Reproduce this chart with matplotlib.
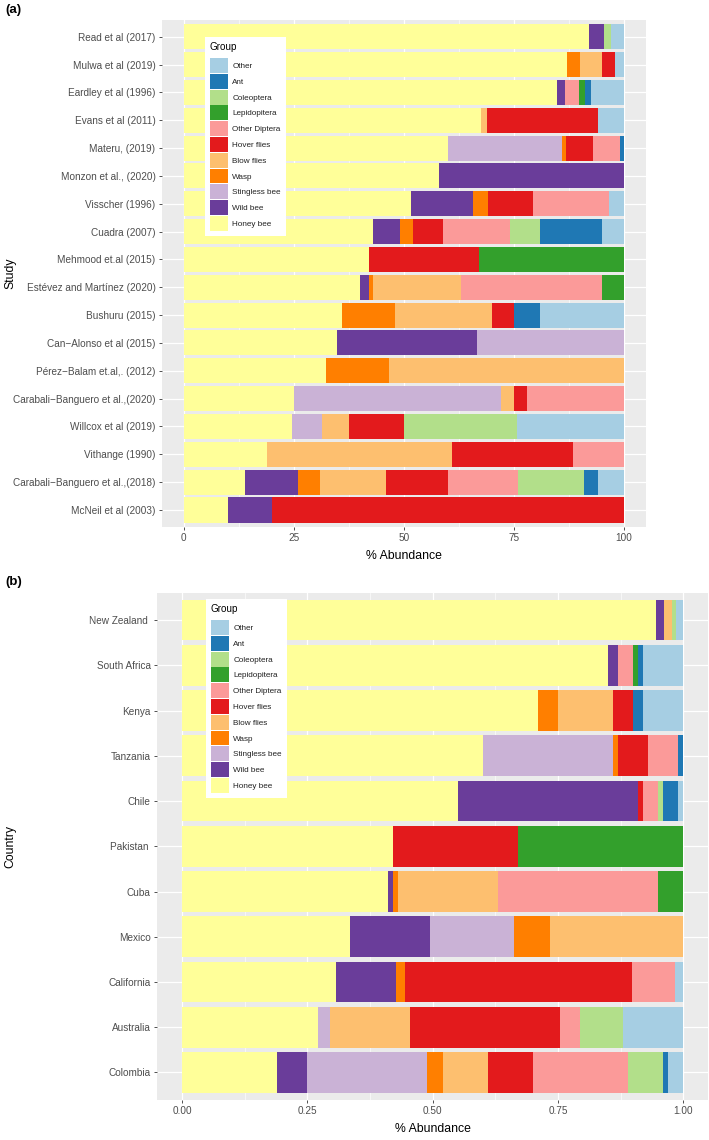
import matplotlib
matplotlib.use("Agg")
import matplotlib.pyplot as plt
from matplotlib.patches import Patch
import numpy as np

plt.rcParams['font.family'] = ['Liberation Sans', 'DejaVu Sans']

# ---------------- data ----------------
groups = ["Honey bee", "Wild bee", "Stingless bee", "Wasp", "Blow flies",
          "Hover flies", "Other Diptera", "Lepidopitera", "Coleoptera", "Ant", "Other"]
colors = ["#FFFF99", "#6A3D9A", "#CAB2D6", "#FF7F00", "#FDBF6F",
          "#E31A1C", "#FB9A99", "#33A02C", "#B2DF8A", "#1F78B4", "#A6CEE3"]

studies = ["Read et al (2017)", "Mulwa et al (2019)", "Eardley et al (1996)",
           "Evans et al (2011)", "Materu, (2019)", "Monzon et al., (2020)",
           "Visscher (1996)", "Cuadra (2007)", "Mehmood et.al (2015)",
           "Estévez and Martínez (2020)", "Bushuru (2015)", "Can\u2212Alonso et al (2015)",
           "Pérez\u2212Balam et.al,. (2012)", "Carabali\u2212Banguero et al.,(2020)",
           "Willcox et al (2019)", "Vithange (1990)",
           "Carabali\u2212Banguero et al.,(2018)", "McNeil et al (2003)"]

a_honey     = [92, 87, 84.7, 67.5, 60, 58, 51.7, 43, 42, 40, 36, 34.8, 32.4, 25, 24.6, 19, 14, 10]
a_wild      = [3.4, 0, 2.0, 0, 0, 42, 13.9, 6.1, 0, 2, 0, 31.9, 0, 0, 0, 0, 12, 10]
a_stingless = [0, 0, 0, 0, 26, 0, 0, 0, 0, 0, 0, 33.3, 0, 47, 6.9, 0, 0, 0]
a_wasp      = [0, 2.9, 0, 0, 0.9, 0, 3.6, 2.9, 0, 1, 12, 0, 14.3, 0, 0, 0, 5, 0]
a_blow      = [0, 5.1, 0, 1.4, 0, 0, 0, 0, 0, 20, 22, 0, 53.3, 3, 6.1, 42, 15, 0]
a_hover     = [0, 3, 0, 25.1, 6.1, 0, 10.2, 7, 25, 0, 5, 0, 0, 3, 12.4, 27.4, 14, 80]
a_odiptera  = [0, 0, 3.0, 0, 6, 0, 17.1, 15, 0, 32, 0, 0, 0, 22, 0, 11.6, 16, 0]
a_lepido    = [0, 0, 1.4, 0, 0, 0, 0, 0, 33, 5, 0, 0, 0, 0, 0, 0, 0, 0]
a_coleo     = [1.6, 0, 0, 0, 0, 0, 0, 7, 0, 0, 0, 0, 0, 0, 25.8, 0, 15, 0]
a_ant       = [0, 0, 1.3, 0, 1, 0, 0, 14, 0, 0, 6, 0, 0, 0, 0, 0, 3, 0]
a_other     = [3.0, 2, 7.6, 6.0, 0, 0, 3.5, 5, 0, 0, 19, 0, 0, 0, 24.2, 0, 6, 0]

countries = ["New Zealand ", "South Africa", "Kenya", "Tanzania", "Chile", "Pakistan ",
             "Cuba", "Mexico", "California", "Australia", "Colombia"]

b_honey     = [.945, .85, .71, .60, .55, .42, .41, .335, .308, .272, .189]
b_wild      = [.016, .02, 0, 0, .36, 0, .01, .16, .119, 0, .061]
b_stingless = [0, 0, 0, .26, 0, 0, 0, .167, 0, .023, .239]
b_wasp      = [0, 0, .04, .01, 0, 0, .01, .072, .018, 0, .031]
b_blow      = [.016, 0, .11, 0, 0, 0, .20, .266, 0, .159, .09]
b_hover     = [0, 0, .04, .06, .01, .25, 0, 0, .452, .30, .09]
b_odiptera  = [0, .03, 0, .06, .03, 0, .32, 0, .086, .04, .189]
b_lepido    = [0, .01, 0, 0, 0, .33, .05, 0, 0, 0, 0]
b_coleo     = [.008, 0, 0, 0, .01, 0, 0, 0, 0, .085, .071]
b_ant       = [0, .01, .02, .01, .03, 0, 0, 0, 0, 0, .01]
b_other     = [.015, .08, .08, 0, .01, 0, 0, 0, .017, .121, .03]

a_ticks = [0, 25, 50, 75, 100]
a_ticklabels = ["0", "25", "50", "75", "100"]
b_ticks = [0, 0.25, 0.5, 0.75, 1.0]
b_ticklabels = ["0.00", "0.25", "0.50", "0.75", "1.00"]

a_series = [a_honey, a_wild, a_stingless, a_wasp, a_blow, a_hover,
            a_odiptera, a_lepido, a_coleo, a_ant, a_other]
b_series = [b_honey, b_wild, b_stingless, b_wasp, b_blow, b_hover,
            b_odiptera, b_lepido, b_coleo, b_ant, b_other]

# ---------------- figure ----------------
W, H = 709, 1140
fig = plt.figure(figsize=(W / 100, H / 100), dpi=100)

PANEL_BG = "#EBEBEB"
TXT = "#4D4D4D"


def draw_panel(rect, cats, series, xmax, ticks, ticklabels):
    ax = fig.add_axes(rect)
    ax.set_facecolor(PANEL_BG)
    n = len(cats)
    y = np.arange(n)
    left = np.zeros(n)
    for vals, col in zip(series, colors):
        v = np.asarray(vals, dtype=float)
        ax.barh(y, v, left=left, height=0.9, color=col, linewidth=0, zorder=3)
        left += v
    ax.set_ylim(n - 1 + 0.6, -0.6)
    ax.set_xlim(-0.05 * xmax, 1.05 * xmax)
    ax.set_yticks(y)
    ax.set_yticklabels(cats, fontsize=7.2, color=TXT)
    ax.set_xticks(ticks)
    ax.set_xticklabels(ticklabels, fontsize=7.2, color=TXT)
    minor = [(ticks[i] + ticks[i + 1]) / 2 for i in range(len(ticks) - 1)]
    ax.set_xticks(minor, minor=True)
    ax.grid(True, which="major", color="white", linewidth=0.9, zorder=0)
    ax.grid(True, which="minor", axis="x", color="white", linewidth=0.45, zorder=0)
    ax.set_axisbelow(True)
    ax.tick_params(axis="both", which="major", length=2.5, width=0.6,
                   color="#333333", pad=2)
    ax.tick_params(axis="x", which="minor", length=0)
    for s in ax.spines.values():
        s.set_visible(False)
    ax.set_xlabel("% Abundance", fontsize=8.8, color="black", labelpad=5)
    return ax


ax_a = draw_panel([161.7 / W, 1 - 526.7 / H, (646 - 161.7) / W, (526.7 - 20) / H],
                  studies, a_series, 100, a_ticks, a_ticklabels)
ax_b = draw_panel([157 / W, 1 - 1099.6 / H, (708.3 - 157) / W, (1099.6 - 593) / H],
                  countries, b_series, 1.0, b_ticks, b_ticklabels)

fig.text(10 / W, 1 - 273 / H, "Study", rotation=90, fontsize=8.8,
         ha="center", va="center")
fig.text(10 / W, 1 - 846 / H, "Country", rotation=90, fontsize=8.8,
         ha="center", va="center")
fig.text(5 / W, 1 - 10 / H, "(a)", fontsize=9.5, fontweight="bold",
         ha="left", va="center")
fig.text(5 / W, 1 - 582 / H, "(b)", fontsize=9.5, fontweight="bold",
         ha="left", va="center")

handles = [Patch(facecolor=c, edgecolor="none") for c in colors[::-1]]
labels = groups[::-1]
for (lx, ly) in [(205, 37), (206, 599)]:
    leg = fig.legend(handles, labels, loc="upper left",
                     bbox_to_anchor=(lx / W, 1 - ly / H), borderaxespad=0,
                     title="Group", title_fontsize=7.1, fontsize=5.9,
                     frameon=True, fancybox=False, facecolor="white",
                     edgecolor="none", framealpha=1,
                     handlelength=2.2, handleheight=2.4, labelspacing=0.12,
                     handletextpad=0.55, borderpad=0.6, alignment="left")
    leg._legend_box.sep = 4.5
    for t in leg.get_texts():
        t.set_color("#222222")

fig.savefig("out.png", dpi=100)
